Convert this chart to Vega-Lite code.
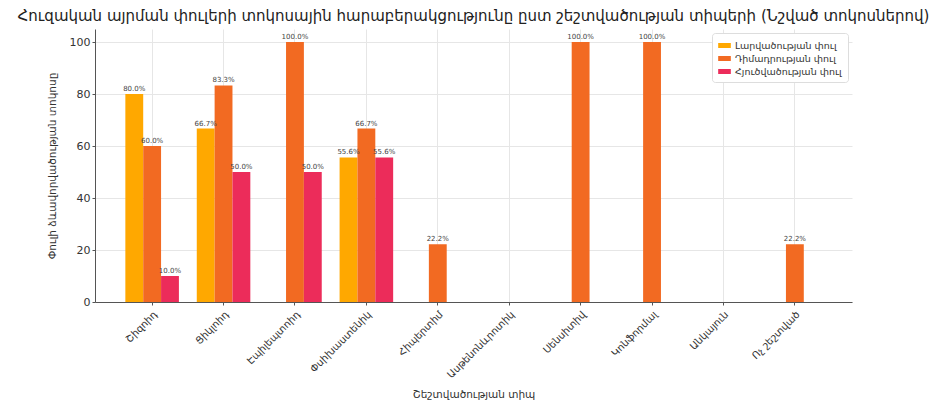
{
  "$schema": "https://vega.github.io/schema/vega-lite/v6.json",
  "autosize": "none",
  "width": 757,
  "height": 273,
  "padding": {"left": 95, "top": 29, "right": 81, "bottom": 103},
  "background": "white",
  "title": {
    "text": "Հուզական այրման փուլերի տոկոսային հարաբերակցությունը ըստ շեշտվածության տիպերի (Նշված տոկոսներով)",
    "font": "DejaVu Sans",
    "fontSize": 15,
    "fontWeight": "normal",
    "color": "#222222",
    "anchor": "middle",
    "offset": 5
  },
  "config": {
    "view": {"stroke": null},
    "font": "DejaVu Sans"
  },
  "data": {
    "values": [
      {"type": "Շիզոիդ", "phase": "Լարվածության փուլ", "value": 80.0},
      {"type": "Շիզոիդ", "phase": "Դիմադրության փուլ", "value": 60.0},
      {"type": "Շիզոիդ", "phase": "Հյուծվածության փուլ", "value": 10.0},
      {"type": "Ցիկլոիդ", "phase": "Լարվածության փուլ", "value": 66.7},
      {"type": "Ցիկլոիդ", "phase": "Դիմադրության փուլ", "value": 83.3},
      {"type": "Ցիկլոիդ", "phase": "Հյուծվածության փուլ", "value": 50.0},
      {"type": "Էպիլեպտոիդ", "phase": "Լարվածության փուլ", "value": 0},
      {"type": "Էպիլեպտոիդ", "phase": "Դիմադրության փուլ", "value": 100.0},
      {"type": "Էպիլեպտոիդ", "phase": "Հյուծվածության փուլ", "value": 50.0},
      {"type": "Փսիխաստենիկ", "phase": "Լարվածության փուլ", "value": 55.6},
      {"type": "Փսիխաստենիկ", "phase": "Դիմադրության փուլ", "value": 66.7},
      {"type": "Փսիխաստենիկ", "phase": "Հյուծվածության փուլ", "value": 55.6},
      {"type": "Հիպերտիմ", "phase": "Լարվածության փուլ", "value": 0},
      {"type": "Հիպերտիմ", "phase": "Դիմադրության փուլ", "value": 22.2},
      {"type": "Հիպերտիմ", "phase": "Հյուծվածության փուլ", "value": 0},
      {"type": "Ասթենոնևրոտիկ", "phase": "Լարվածության փուլ", "value": 0},
      {"type": "Ասթենոնևրոտիկ", "phase": "Դիմադրության փուլ", "value": 0},
      {"type": "Ասթենոնևրոտիկ", "phase": "Հյուծվածության փուլ", "value": 0},
      {"type": "Սենսիտիվ", "phase": "Լարվածության փուլ", "value": 0},
      {"type": "Սենսիտիվ", "phase": "Դիմադրության փուլ", "value": 100.0},
      {"type": "Սենսիտիվ", "phase": "Հյուծվածության փուլ", "value": 0},
      {"type": "Կոնֆորմալ", "phase": "Լարվածության փուլ", "value": 0},
      {"type": "Կոնֆորմալ", "phase": "Դիմադրության փուլ", "value": 100.0},
      {"type": "Կոնֆորմալ", "phase": "Հյուծվածության փուլ", "value": 0},
      {"type": "Անկայուն", "phase": "Լարվածության փուլ", "value": 0},
      {"type": "Անկայուն", "phase": "Դիմադրության փուլ", "value": 0},
      {"type": "Անկայուն", "phase": "Հյուծվածության փուլ", "value": 0},
      {"type": "Ոչ շեշտված", "phase": "Լարվածության փուլ", "value": 0},
      {"type": "Ոչ շեշտված", "phase": "Դիմադրության փուլ", "value": 22.2},
      {"type": "Ոչ շեշտված", "phase": "Հյուծվածության փուլ", "value": 0}
    ]
  },
  "encoding": {
    "x": {
      "field": "type",
      "type": "nominal",
      "sort": null,
      "scale": {"paddingInner": 0.25, "paddingOuter": 0.425},
      "axis": {
        "title": "Շեշտվածության տիպ",
        "titleFont": "DejaVu Sans",
        "titleFontSize": 10.5,
        "titleFontWeight": "normal",
        "titleColor": "#333333",
        "titlePadding": 10,
        "labelAngle": -45,
        "labelFontSize": 10,
        "labelColor": "#333333",
        "labelPadding": 4,
        "bandPosition": 0.5,
        "grid": true,
        "gridColor": "#e6e6e6",
        "domainColor": "#555555",
        "tickColor": "#555555",
        "tickSize": 3
      }
    },
    "xOffset": {
      "field": "phase",
      "type": "nominal",
      "sort": ["Լարվածության փուլ", "Դիմադրության փուլ", "Հյուծվածության փուլ"]
    },
    "y": {
      "field": "value",
      "type": "quantitative",
      "scale": {"domain": [0, 105], "nice": false},
      "axis": {
        "title": "Փուլի ձևավորվածության տոկոսը",
        "titleFontSize": 10.5,
        "titleFontWeight": "normal",
        "titleColor": "#333333",
        "titlePadding": 12,
        "values": [0, 20, 40, 60, 80, 100],
        "labelFontSize": 11,
        "labelColor": "#333333",
        "gridColor": "#e6e6e6",
        "domainColor": "#555555",
        "tickColor": "#555555",
        "tickSize": 3
      }
    }
  },
  "layer": [
    {
      "mark": {"type": "bar"},
      "encoding": {
        "color": {
          "field": "phase",
          "type": "nominal",
          "scale": {
            "domain": ["Լարվածության փուլ", "Դիմադրության փուլ", "Հյուծվածության փուլ"],
            "range": ["#FFA800", "#F26A22", "#EC2C5A"]
          },
          "legend": {
            "title": null,
            "orient": "top-right",
            "offset": 4,
            "labelFontSize": 9.5,
            "labelColor": "#333333",
            "symbolType": "M-1,-0.4L1,-0.4L1,0.4L-1,0.4Z",
            "symbolSize": 160,
            "symbolStrokeWidth": 0,
            "rowPadding": 2,
            "padding": 6,
            "strokeColor": "#dddddd",
            "fillColor": "white",
            "cornerRadius": 3
          }
        }
      }
    },
    {
      "transform": [{"filter": "datum.value > 0"}],
      "mark": {
        "type": "text",
        "baseline": "bottom",
        "dy": -2,
        "fontSize": 7,
        "color": "#444444",
        "text": {"expr": "format(datum.value, '.1f') + '%'"}
      }
    }
  ]
}
